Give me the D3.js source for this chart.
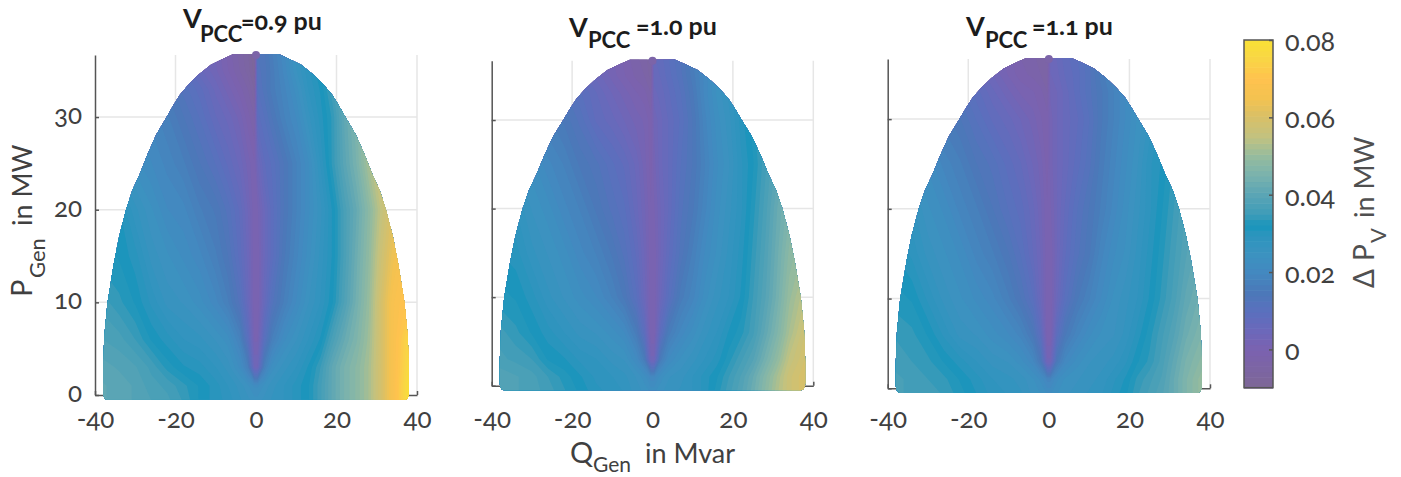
<!DOCTYPE html>
<html lang="en">
<body style="margin:0">
<script src="https://cdn.jsdelivr.net/npm/d3@7"></script>
<style>
    svg { display: block; }
    svg text { fill: #404040; }
    .grid { stroke: #e6e6e6; stroke-width: 1.5; fill: none; }
    .axis path, .axis line { stroke: #555; stroke-width: 1.5; }
    .axis text { font-size: 26px; }
    svg text.title { font-weight: 700; fill: #1c1c1c; }
</style>
<svg id="chart" width="1401" height="477" font-family="Lato" style="font-variant-numeric:oldstyle-nums"></svg>
<script>
// sample positions of the value tables
const qGen = [-39,-34,-30,-26,-22,-18,-14,-10,-7,-4,-2,-0.4,0.4,2,4,7,10,13,16,19,22,25,28,31,34,39];
const pGen = [-1,1,3,6,10,15,20,25,30,33,35,38];

// delta P_V in kW, one row per pGen, one column per qGen
const dpV09 = [
    [41,40,39,38,37,35,32,30,29,27,26,25,25,26,27,28,30,32,36,41,45,48,52,59,67,82],
    [41,40,39,37,36,34,32,30,28,26,24,22,22,24,26,28,30,32,36,41,45,48,52,59,67,82],
    [40,39,38,36,33,31,30,28,26,22,17,4,4,17,23,26,28,31,35,41,45,48,52,59,67,80],
    [38,37,35,32,30,28,27,25,23,18,10,1,1,10,17,22,25,28,31,37,42,46,51,59,67,78],
    [36,34,32,29,26,25,23,20,17,12,6,0,0,6,12,17,21,25,28,32,38,44,50,59,67,72],
    [33,32,30,26,24,22,20,17,14,9,5,0,0,5,9,15,19,23,27,31,37,43,49,57,64,70],
    [31,31,27,24,21,20,17,15,12,8,4,0,1,5,9,14,18,22,26,31,37,42,48,55,61,68],
    [27,26,23,21,19,17,14,11,8,5,2,0,4,8,10,14,18,22,28,34,40,45,52,58,64,70],
    [25,23,21,19,17,14,11,7,5,2,-1,-3,9,11,14,18,21,26,30,34,41,46,52,58,64,70],
    [23,21,19,17,15,12,9,5,2,-1,-3,-6,11,13,16,19,23,28,31,36,42,46,52,58,64,70],
    [21,19,17,15,13,10,6,3,0,-3,-5,-8,12,13,16,20,25,29,32,38,42,46,52,58,64,70],
    [20,18,16,14,12,9,5,2,-1,-4,-6,-9,13,14,17,21,26,30,33,39,43,47,52,58,64,70]
];
const dpV10 = [
    [39,38,37,36,34,32,30,29,28,26,25,24,24,25,26,27,28,30,33,36,39,43,48,53,57,61],
    [39,38,37,35,33,31,29,28,27,25,23,20,20,23,25,26,28,30,32,35,38,42,47,52,57,61],
    [37,36,35,32,31,29,28,26,25,21,16,3,3,16,21,24,26,28,30,33,36,39,44,49,55,60],
    [36,34,32,30,28,26,25,23,21,16,9,0,0,9,16,20,23,26,28,31,33,36,41,46,52,59],
    [33,32,30,27,25,23,21,18,15,10,5,0,0,5,10,16,19,23,26,28,31,35,39,44,50,56],
    [31,30,27,25,23,20,18,15,12,8,4,0,0,4,8,13,17,21,24,27,30,34,38,43,48,52],
    [30,28,25,23,20,18,15,12,10,6,3,0,1,4,7,12,15,19,23,26,29,33,37,42,46,50],
    [26,25,23,20,18,15,13,10,8,5,2,-1,2,5,7,11,14,18,22,25,29,32,36,40,44,48],
    [24,22,20,17,15,12,8,6,4,2,1,-1,3,5,7,10,14,19,23,26,30,33,37,40,44,48],
    [22,20,18,15,13,10,7,4,2,0,-1,-3,5,6,8,11,15,20,24,27,30,33,37,40,44,48],
    [20,18,16,13,11,8,5,2,0,-2,-3,-5,6,7,9,12,16,20,24,27,30,33,37,40,44,48],
    [19,17,15,12,10,7,4,1,-1,-3,-4,-6,7,8,10,13,17,21,25,28,31,34,37,40,44,48]
];
const dpV11 = [
    [37,36,36,35,33,31,29,28,27,25,24,23,23,24,25,26,27,28,30,32,35,37,39,42,46,51],
    [37,36,35,34,32,30,28,27,26,24,22,19,19,22,24,25,26,27,29,31,34,36,38,42,46,51],
    [36,35,34,32,30,28,26,25,23,20,15,3,3,15,20,23,25,26,27,29,32,34,37,41,45,49],
    [35,34,32,29,26,25,23,21,19,15,9,0,0,9,15,19,22,24,25,27,30,33,36,39,43,47],
    [33,32,29,26,24,22,20,17,14,10,5,0,0,5,10,15,18,21,24,26,28,31,34,37,41,45],
    [31,29,26,24,22,19,17,14,11,7,4,0,0,4,8,12,15,19,22,24,27,30,33,36,39,43],
    [29,27,24,22,19,17,14,11,9,6,3,0,1,4,7,11,14,17,20,23,26,29,32,35,38,42],
    [26,24,22,19,17,14,12,9,7,4,2,-1,2,4,6,9,12,16,19,22,25,29,31,34,37,40],
    [23,21,19,16,14,11,8,6,4,2,0,-1,2,4,6,8,11,15,18,21,24,27,30,33,36,39],
    [21,19,17,14,12,9,6,3,1,0,-1,-3,3,4,6,9,12,15,18,21,24,27,30,33,36,39],
    [19,17,15,12,10,7,4,1,-1,-2,-3,-4,4,5,7,9,12,16,19,22,24,27,30,33,36,39],
    [18,16,14,11,9,6,3,0,-2,-3,-4,-5,5,6,8,10,13,17,20,23,25,28,31,34,37,40]
];

// outer edge of the operating region (half width in Mvar at each P)
const edgeP = [-0.52,-0.42,-0.1,0.3,2.7,6.3,9.94,12.1,14.25,17.1,20,22.14,23.83,25.92,28.08,30,31.3,32.4,33.48,34.56,35.64,36.36,36.8];
const edgeQ = [36.9,37.5,37.9,38,38,37.7,36.9,36.1,35.3,34,32.3,30.7,28.9,27,24.8,22.2,20.5,18.9,16.8,14.3,11.2,7.9,5.6];
const topPoint = [0, 36.7];
const topValue = -3;

const xTicks = [-40,-20,0,20,40];
const yTicks = [0,10,20,30];
const cbTicks = [0,0.02,0.04,0.06,0.08];
const titles = ["=0.9 pu","=1.0 pu","=1.1 pu"];

// colour bar stops, value then colour
const stopValues = [-0.01,0,0.005,0.01,0.015,0.02,0.025,0.03,0.032,0.035,0.04,0.045,0.05,0.055,0.06,0.065,0.07,0.075,0.08];
const stopColors = ["#7d6796","#7b62b0","#6b68bb","#5a70bd","#4b79b9","#4389c0","#3b93c0","#2a95bd","#1795bc","#3e9cb8","#5aa5b5","#79b2ae","#95bb9e","#c2c280","#d8c068","#f3c250","#ffc24f","#f9d545","#f9e136"];

const color = d3.scaleLinear().domain(stopValues).range(stopColors);
const levels = d3.range(64).map(i => -0.01 + i * 0.09 / 64);
const levelStep = 0.09 / 64;

const panels = [
    {grid: dpV09, x0: 95, x1: 417, y0: 395, yTop: 55, labels: true},
    {grid: dpV10, x0: 491.7, x1: 813.3, y0: 385.7, yTop: 60.7, labels: false},
    {grid: dpV11, x0: 887.7, x1: 1210, y0: 388.3, yTop: 59, labels: false}
];

const svg = d3.select("#chart");

// grid index (contour coordinates sit at i + 0.5) to data value
const qOfIndex = d3.scaleLinear().domain(qGen.map((d, i) => i + 0.5)).range(qGen);
const pOfIndex = d3.scaleLinear().domain(pGen.map((d, i) => i + 0.5)).range(pGen);

panels.forEach((panel, n) => {
    const x = d3.scaleLinear().domain([-40, 40]).range([panel.x0, panel.x1]);
    const y = d3.scaleLinear().domain([0, 36.7]).range([panel.y0, panel.yTop]);
    const g = svg.append("g");

    // grid lines
    g.selectAll("line.gx").data(xTicks.slice(1)).join("line")
        .attr("class", "grid")
        .attr("x1", d => x(d)).attr("x2", d => x(d))
        .attr("y1", panel.yTop).attr("y2", panel.y0);
    g.selectAll("line.gy").data(yTicks.slice(1)).join("line")
        .attr("class", "grid")
        .attr("x1", panel.x0).attr("x2", panel.x1)
        .attr("y1", d => y(d)).attr("y2", d => y(d));

    // axes, ticks point inwards like the matlab ones
    const xAxis = g.append("g").attr("class", "axis")
        .attr("transform", `translate(0,${panel.y0})`)
        .call(d3.axisBottom(x).tickValues(xTicks).tickSize(-4).tickSizeOuter(0));
    xAxis.selectAll("text").attr("y", 428 - panel.y0).attr("dy", 0).text(d => String(d));

    const yAxis = g.append("g").attr("class", "axis")
        .attr("transform", `translate(${panel.x0},0)`)
        .call(d3.axisLeft(y).tickValues(yTicks).tickSize(-4).tickSizeOuter(0));
    yAxis.selectAll("text").attr("x", -13).attr("dy", 6.5);
    if (!panel.labels) yAxis.selectAll("text").remove();

    // value field, clipped to the operating region
    const edge = edgeP.map((p, i) => [edgeQ[i], p]).concat(edgeP.map((p, i) => [-edgeQ[i], p]).reverse());
    const outline = d3.line().x(d => x(d[0])).y(d => y(d[1]));
    g.append("clipPath").attr("id", "region" + n).append("path").attr("d", outline(edge) + "Z");

    const values = panel.grid.flat().map(d => d * 0.001);
    const contours = d3.contours().size([qGen.length, pGen.length]).smooth(true).thresholds(levels)(values);
    const path = d3.geoPath(d3.geoTransform({
        point(px, py) { this.stream.point(x(qOfIndex(px)), y(pOfIndex(py))); }
    }));
    g.append("g").attr("clip-path", `url(#region${n})`)
        .selectAll("path").data(contours).join("path")
        .attr("d", path)
        .attr("fill", d => color(d.value + levelStep / 2));

    g.append("circle")
        .attr("cx", x(topPoint[0])).attr("cy", y(topPoint[1])).attr("r", 4)
        .attr("fill", color(topValue * 0.001));
});

// one text made of pieces placed along a line
function pieces(parent, ox, oy, rotate, parts) {
    const t = parent.append("g").attr("transform", `translate(${ox},${oy}) rotate(${rotate})`);
    parts.forEach(p => {
        t.append("text").attr("x", p[1]).attr("y", p[2]).attr("font-size", p[3]).text(p[0]);
    });
    return t;
}

// titles
const titleAt = [[183, 28, 200, 42, 241, 30], [569, 37, 588, 48, 636, 35], [966, 36, 985, 48, 1032, 35]];
titles.forEach((s, i) => {
    const a = titleAt[i];
    const t = svg.append("g").attr("class", "titles");
    t.append("text").attr("class", "title").attr("x", a[0]).attr("y", a[1]).attr("font-size", 27).text("V");
    t.append("text").attr("class", "title").attr("x", a[2]).attr("y", a[3]).attr("font-size", 22).text("PCC");
    t.append("text").attr("class", "title").attr("x", a[4]).attr("y", a[5]).attr("font-size", 25).text(s);
});

// axis titles
pieces(svg, 0, 0, 0, [["Q", 570, 463, 29], ["Gen", 593, 472, 21], ["in Mvar", 645, 463, 27]]);
pieces(svg, 32, 297, -90, [["P", 0, 0, 29], ["Gen", 19, 13, 22], ["in MW", 71, 0, 27]]);

// colour bar
const cbX = 1244, cbW = 29;
const cbY = d3.scaleLinear().domain([-0.0099, 0.08]).range([387.7, 40]);
const cb = svg.append("g");
cb.selectAll("rect").data(levels).join("rect")
    .attr("x", cbX).attr("width", cbW)
    .attr("y", d => cbY(d + levelStep))
    .attr("height", d => cbY(d) - cbY(d + levelStep) + 0.6)
    .attr("fill", d => color(d + levelStep / 2));
cb.append("rect").attr("x", cbX).attr("y", 40).attr("width", cbW).attr("height", 347.7)
    .attr("fill", "none").attr("stroke", "#555").attr("stroke-width", 1.5);
const cbAxis = cb.append("g").attr("class", "axis")
    .attr("transform", `translate(${cbX + cbW},0)`)
    .call(d3.axisRight(cbY).tickValues(cbTicks).tickSize(-4).tickSizeOuter(0).tickFormat(d => d === 0 ? "0" : d3.format(".2f")(d)));
cbAxis.select(".domain").remove();
cbAxis.selectAll("text").attr("x", 12).attr("dy", 10.5).style("font-size", "27px");
pieces(svg, 1374, 288, -90, [["\u0394", 0, 0, 28], ["P", 27, 0, 28], ["V", 45, 12, 22], ["in MW", 70, 0, 27]])
    .selectAll("text").style("fill", "#505050");

// old style figures, set on every text so nothing overrides them
svg.selectAll("text")
    .style("font-family", "Lato")
    .style("font-variant-numeric", "oldstyle-nums")
    .style("font-feature-settings", '"onum" 1');
</script>
</body>
</html>
